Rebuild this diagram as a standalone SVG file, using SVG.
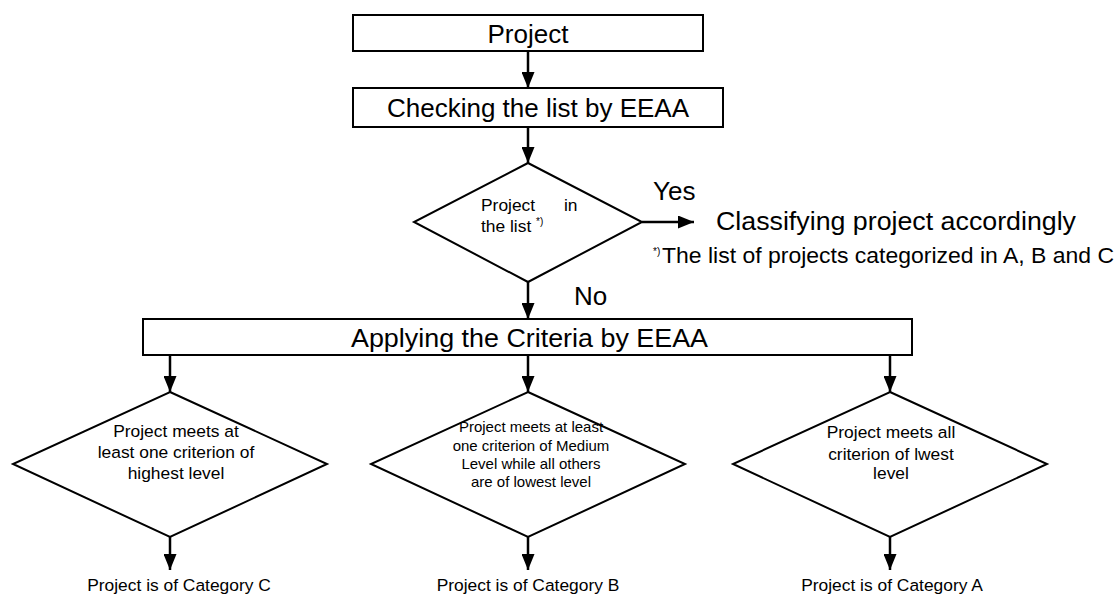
<svg xmlns="http://www.w3.org/2000/svg" width="1118" height="594" viewBox="0 0 1118 594">
  <defs>
    <marker id="arrow" markerUnits="userSpaceOnUse" markerWidth="16" markerHeight="13" refX="16" refY="6.5" orient="auto">
      <path d="M0,0 L16,6.5 L0,13 Z" fill="#000"/>
    </marker>
    <style>
      .box { fill: #fff; stroke: #000; stroke-width: 2; }
      .dia { fill: #fff; stroke: #000; stroke-width: 2; }
      .link { fill: none; stroke: #000; stroke-width: 2.5; marker-end: url(#arrow); }
      text { font-family: "Liberation Sans", Arial, sans-serif; fill: #000; }
      .big { font-size: 26px; }
      .mid { font-size: 17.4px; }
      .sml { font-size: 15px; }
      .sup { font-size: 10px; }
      .c { text-anchor: middle; }
    </style>
  </defs>

  <!-- connectors -->
  <g id="connectors">
    <line class="link" x1="528" y1="51" x2="528" y2="88"/>
    <line class="link" x1="528" y1="127" x2="528" y2="163"/>
    <line class="link" x1="642" y1="222" x2="694" y2="222"/>
    <line class="link" x1="528" y1="282" x2="528" y2="319"/>
    <line class="link" x1="170" y1="355" x2="170" y2="392"/>
    <line class="link" x1="528" y1="355" x2="528" y2="392"/>
    <line class="link" x1="890" y1="355" x2="890" y2="392"/>
    <line class="link" x1="170" y1="537" x2="170" y2="570"/>
    <line class="link" x1="528" y1="537" x2="528" y2="570"/>
    <line class="link" x1="890" y1="537" x2="890" y2="570"/>
  </g>

  <g id="project">
    <rect class="box" x="353" y="15" width="350" height="36"/>
    <text class="big c" x="528" y="43">Project</text>
  </g>

  <g id="checking">
    <rect class="box" x="353" y="88" width="370" height="39"/>
    <text class="big c" x="538" y="117">Checking the list by EEAA</text>
  </g>

  <g id="in-list">
    <polygon class="dia" points="528,163 642,222 528,282 414,222"/>
    <text class="mid" x="481" y="211">Project</text>
    <text class="mid" x="564" y="211">in</text>
    <text class="mid" x="481" y="232">the list <tspan class="sup" dy="-7">*)</tspan></text>
  </g>

  <g id="yes-label">
    <text class="big" x="653" y="200">Yes</text>
  </g>

  <g id="classifying">
    <text class="big" x="716" y="230" textLength="360" lengthAdjust="spacingAndGlyphs">Classifying project accordingly</text>
  </g>

  <g id="footnote">
    <text class="sup" x="653" y="255">*)</text>
    <text x="662" y="263" font-size="22.5" textLength="452" lengthAdjust="spacingAndGlyphs">The list of projects categorized in A, B and C</text>
  </g>

  <g id="no-label">
    <text class="big" x="574" y="305">No</text>
  </g>

  <g id="applying">
    <rect class="box" x="143" y="319" width="769" height="36"/>
    <text class="big" x="351" y="347" textLength="357" lengthAdjust="spacingAndGlyphs">Applying the Criteria by EEAA</text>
  </g>

  <g id="highest">
    <polygon class="dia" points="170,392 327,464 170,537 13,464"/>
    <text class="mid c" x="176" y="437">Project meets at</text>
    <text class="mid c" x="176" y="458">least one criterion of</text>
    <text class="mid c" x="176" y="479">highest level</text>
  </g>

  <g id="medium">
    <polygon class="dia" points="528,392 685,464 528,537 371,464"/>
    <text class="sml c" x="531" y="432">Project meets at least</text>
    <text class="sml c" x="531" y="451">one criterion of Medium</text>
    <text class="sml c" x="531" y="469">Level while all others</text>
    <text class="sml c" x="531" y="487">are of lowest level</text>
  </g>

  <g id="lowest">
    <polygon class="dia" points="890,392 1047,464 890,537 733,464"/>
    <text class="mid c" x="891" y="438">Project meets all</text>
    <text class="mid c" x="891" y="460">criterion of lwest</text>
    <text class="mid c" x="891" y="479">level</text>
  </g>

  <g id="category-c">
    <text class="mid c" x="179" y="591">Project is of Category C</text>
  </g>
  <g id="category-b">
    <text class="mid c" x="528" y="591">Project is of Category B</text>
  </g>
  <g id="category-a">
    <text class="mid c" x="892" y="591">Project is of Category A</text>
  </g>
</svg>
